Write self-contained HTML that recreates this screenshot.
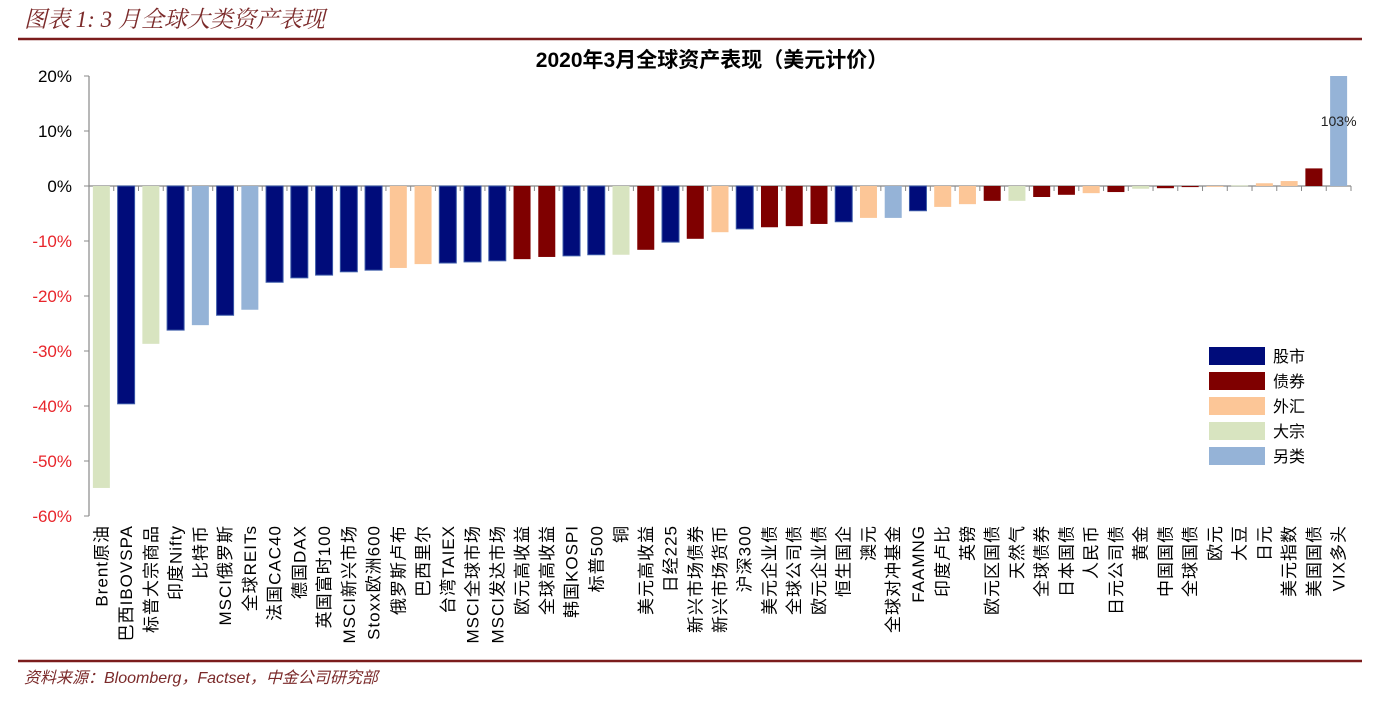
<!DOCTYPE html>
<html><head><meta charset="utf-8"><style>
body{margin:0;background:#fff;width:1400px;height:714px;overflow:hidden;font-family:"Liberation Sans","Noto Sans CJK SC",sans-serif}
</style></head><body>
<svg id="chart" width="1400" height="714" xmlns="http://www.w3.org/2000/svg">
<text x="24" y="27" font-size="23" font-style="italic" fill="#7b2a2a" font-family="Liberation Serif,Noto Serif CJK SC,serif">图表 1: 3 月全球大类资产表现</text>
<line x1="18" y1="39" x2="1362" y2="39" stroke="#7b1c1c" stroke-width="2.5"/>
<text x="712" y="67" font-size="21" font-weight="bold" text-anchor="middle" fill="#000">2020年3月全球资产表现（美元计价）</text>
<g id="axes"></g><g id="bars"></g><g id="xlabels"></g>
<g id="legend"></g>
<line x1="18" y1="661" x2="1362" y2="661" stroke="#7b1c1c" stroke-width="2.5"/>
<text x="24" y="683" font-size="16" font-style="italic" fill="#7b2a2a">资料来源：Bloomberg，Factset，中金公司研究部</text>
</svg>
<script>
const categories=["Brent原油","巴西IBOVSPA","标普大宗商品","印度Nifty","比特币","MSCI俄罗斯","全球REITs","法国CAC40","德国DAX","英国富时100","MSCI新兴市场","Stoxx欧洲600","俄罗斯卢布","巴西里尔","台湾TAIEX","MSCI全球市场","MSCI发达市场","欧元高收益","全球高收益","韩国KOSPI","标普500","铜","美元高收益","日经225","新兴市场债券","新兴市场货币","沪深300","美元企业债","全球公司债","欧元企业债","恒生国企","澳元","全球对冲基金","FAAMNG","印度卢比","英镑","欧元区国债","天然气","全球债券","日本国债","人民币","日元公司债","黄金","中国国债","全球国债","欧元","大豆","日元","美元指数","美国国债","VIX多头"];
const values=[-54.9,-39.6,-28.7,-26.2,-25.3,-23.5,-22.5,-17.5,-16.7,-16.2,-15.6,-15.3,-14.9,-14.2,-14.0,-13.8,-13.6,-13.3,-12.9,-12.7,-12.5,-12.5,-11.6,-10.2,-9.6,-8.4,-7.8,-7.5,-7.3,-6.9,-6.5,-5.8,-5.8,-4.5,-3.8,-3.3,-2.7,-2.7,-2.0,-1.6,-1.3,-1.1,-0.5,-0.4,-0.2,-0.1,0.1,0.5,0.9,3.2,103];
const groups=["大宗","股市","大宗","股市","另类","股市","另类","股市","股市","股市","股市","股市","外汇","外汇","股市","股市","股市","债券","债券","股市","股市","大宗","债券","股市","债券","外汇","股市","债券","债券","债券","股市","外汇","另类","股市","外汇","外汇","债券","大宗","债券","债券","外汇","债券","大宗","债券","债券","外汇","大宗","外汇","外汇","债券","另类"];
const groupNames=["股市","债券","外汇","大宗","另类"];
const yTicks=[20,10,0,-10,-20,-30,-40,-50,-60];
const colors={"股市":"#000c7a","债券":"#7f0000","外汇":"#fcc697","大宗":"#d8e4c0","另类":"#95b3d7"};
const NS="http://www.w3.org/2000/svg";
const X0=89,X1=1351,Y0=186,PX=5.5,YMAX=20;
const y=v=>Y0-Math.min(v,YMAX)*PX;
const step=(X1-X0)/categories.length;
const cx=i=>X0+step*(i+0.5);
function mk(tag,attrs,parent,txt){const e=document.createElementNS(NS,tag);for(const k in attrs)e.setAttribute(k,attrs[k]);if(txt!==undefined)e.textContent=txt;parent.appendChild(e);return e;}
const axes=document.getElementById('axes'),bars=document.getElementById('bars'),xl=document.getElementById('xlabels'),lg=document.getElementById('legend');
let a=mk('line',{x1:X0,y1:y(20),x2:X0,y2:y(-60),stroke:'#888','stroke-width':1.2},axes);


yTicks.forEach(t=>{
  let tk=mk('line',{x1:X0-5,y1:y(t),x2:X0,y2:y(t),stroke:'#888'},axes);
  
  
  let tx=mk('text',{x:X0-17,y:y(t)+6,'font-size':17,'text-anchor':'end',fill:t<0?'#e8252b':'#000'},axes,t+'%');
  
  
});
categories.forEach((c,i)=>{
  const v=values[i],bw=17;
  const top=Math.min(y(v),Y0),h=Math.max(Math.abs(y(v)-Y0),0.8);
  let r=mk('rect',{x:cx(i)-bw/2,y:top,width:bw,height:h,fill:colors[groups[i]],stroke:groups[i]==='股市'?'#3b5aa8':'none','stroke-width':1},bars);
  
  
  let tk=mk('line',{x1:X0+step*(i+1),y1:Y0,x2:X0+step*(i+1),y2:Y0+5,stroke:'#888'},axes);
  
  
  let t=mk('text',{transform:`translate(${cx(i)+6},${525}) rotate(-90)`,'font-size':17,'letter-spacing':'1','text-anchor':'end',fill:'#000'},xl,c);
  
  
  if(v>YMAX){let o=mk('text',{x:cx(i),y:126,'font-size':14,'text-anchor':'middle',fill:'#222'},bars,Math.round(v)+'%');
  
  }
});
let ax=mk('line',{x1:X0,y1:Y0,x2:X1,y2:Y0,stroke:'#888','stroke-width':1.2},axes);


groupNames.forEach((g,k)=>{
  let s=mk('rect',{x:1209,y:347+k*25,width:56,height:18,fill:colors[g]},lg);
  
  
  let t=mk('text',{x:1273,y:362+k*25,'font-size':16,fill:'#000'},lg,g);
  
  
});
</script>
</body></html>
